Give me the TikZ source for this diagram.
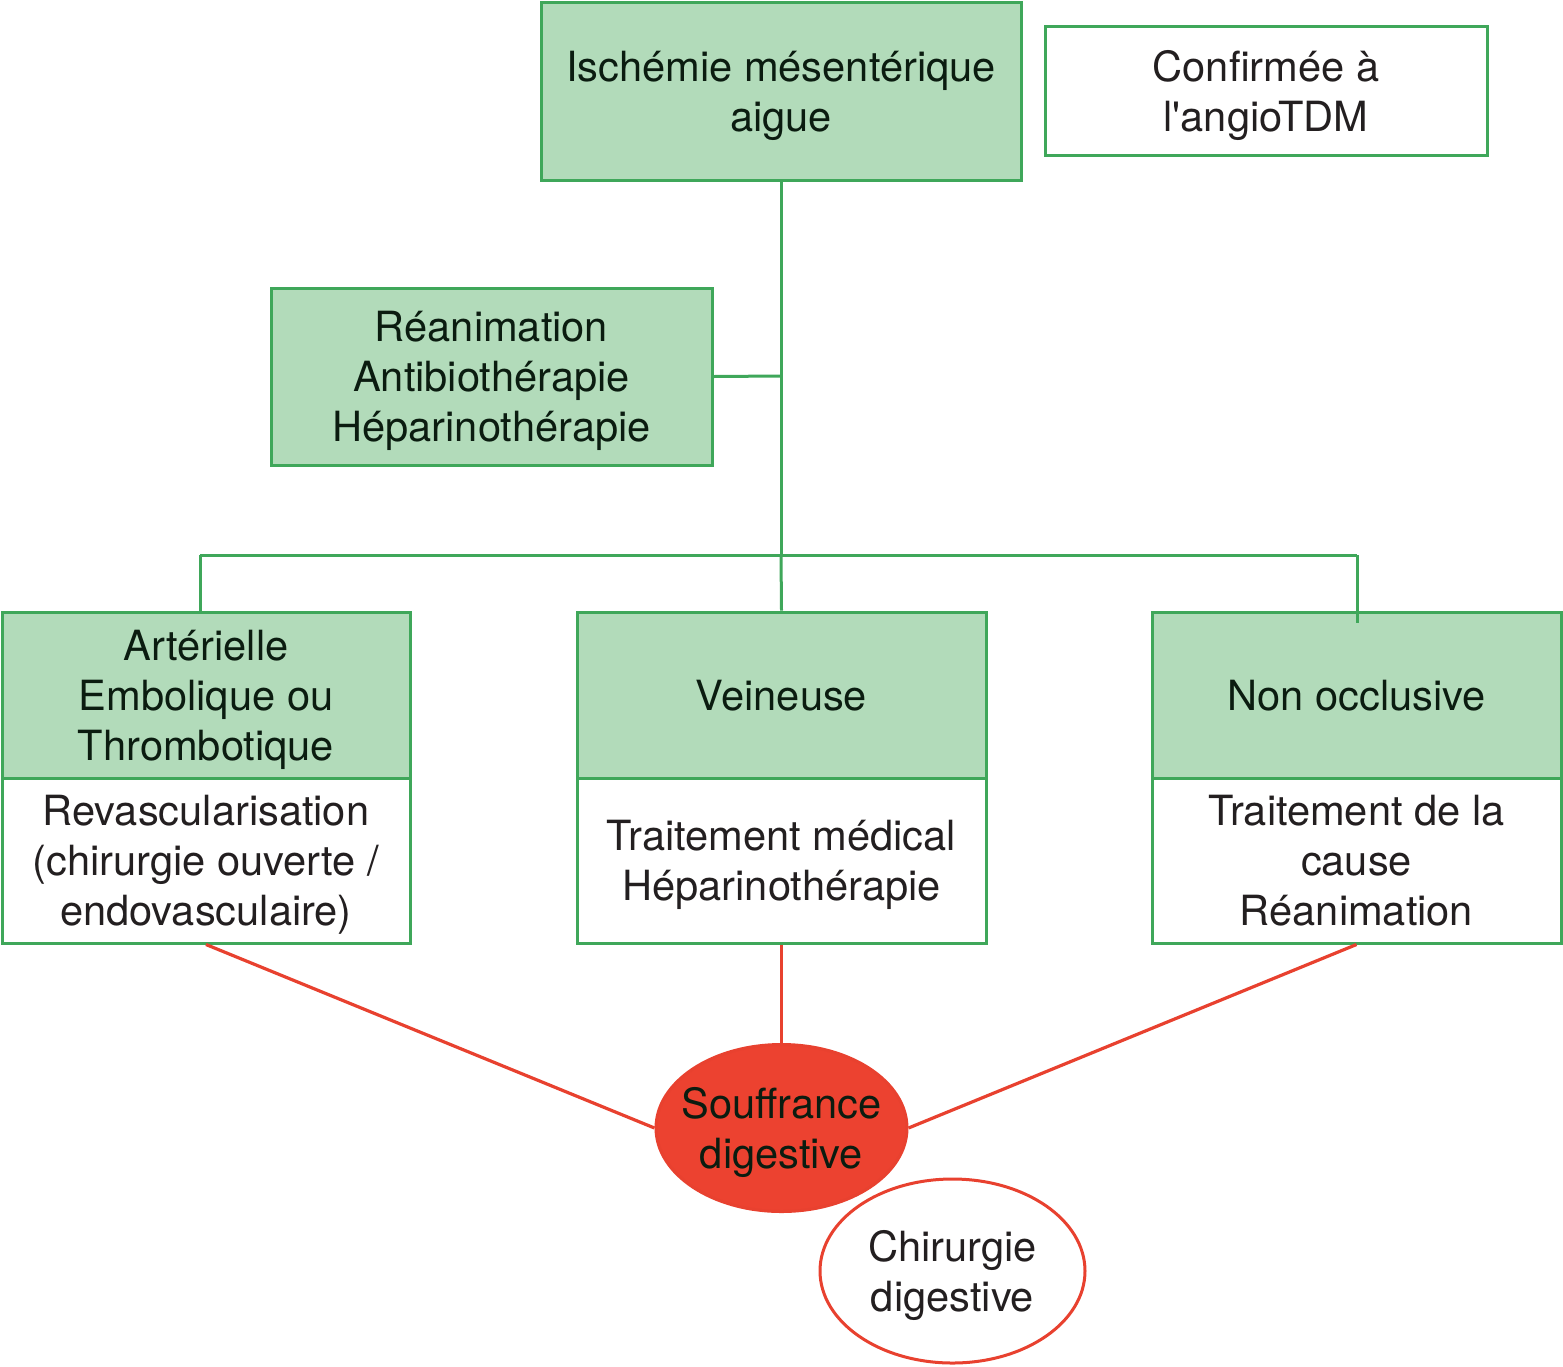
\documentclass[tikz,border=0pt]{standalone}
\usepackage{fontspec}
\setmainfont{TeX Gyre Heros}
\usetikzlibrary{shapes.geometric}
\definecolor{gfill}{HTML}{B2DBBA}
\definecolor{gline}{HTML}{3FA75A}
\definecolor{rfill}{HTML}{EC4230}
\definecolor{rline}{HTML}{E8412F}
\definecolor{gtext}{HTML}{0B1C10}
\definecolor{wtext}{HTML}{231F20}
\tikzset{
  base/.style={line width=1.5pt, align=center, inner sep=0pt, text depth=0pt, font=\fontsize{20.8}{25}\selectfont},
  gbox/.style={base, draw=gline, fill=gfill, text=gtext},
  wbox/.style={base, draw=gline, fill=white, text=wtext},
  rell/.style={base, ellipse, draw=rline, inner xsep=-12pt, inner ysep=-12pt},
  gconn/.style={draw=gline, line width=1.5pt},
  rconn/.style={draw=rline, line width=1.6pt},
}
\begin{document}
\begin{tikzpicture}[x=0.5pt,y=-0.5pt]
\useasboundingbox (0,0) rectangle (1563,1366);
\coordinate (hj) at (781,555);
\coordinate (hl) at (200,555);
\coordinate (hr) at (1357,555);
\coordinate (rj) at (781,376);
\coordinate (re) at (1357,623);
\node[gbox, minimum width=240pt, minimum height=89pt] (top) at (781,91) {Ischémie mésentérique\\aigue};
\node[wbox, minimum width=221pt, minimum height=64.5pt] (conf) at (1266,90.5) {Confirmée à\\l\textquotesingle angioTDM};
\node[gbox, minimum width=220.5pt, minimum height=88.5pt] (rea) at (491.5,376.5) {Réanimation\\Antibiothérapie\\Héparinothérapie};
\draw[gconn] (top.south) -- (rj) -- (hj);
\draw[gconn] (rea.east) -- (rj);
\draw[gconn] (hl) -- (hr);
\node[gbox, minimum width=204pt, minimum height=83pt] (lt) at (206,695) {Artérielle\\Embolique ou\\Thrombotique};
\node[wbox, minimum width=204pt, minimum height=82.5pt] (lb) at (206,860.5) {Revascularisation\\(chirurgie ouverte /\\endovasculaire)};
\node[gbox, minimum width=204.5pt, minimum height=83pt] (mt) at (781.5,695) {Veineuse};
\node[wbox, minimum width=204.5pt, minimum height=82.5pt] (mb) at (781.5,860.5) {Traitement médical\\Héparinothérapie};
\node[gbox, minimum width=204.5pt, minimum height=83pt] (rt) at (1356.5,695) {Non occlusive};
\node[wbox, minimum width=204.5pt, minimum height=82.5pt] (rb) at (1356.5,860.5) {Traitement de la\\cause\\Réanimation};
\draw[gconn] (hl) -- (hl |- lt.north);
\draw[gconn] (hj) -- (mt.north);
\draw[gconn] (hr) -- (re);
\node[rell, fill=rfill, text=gtext, minimum width=125.5pt, minimum height=83.5pt] (souf) at (781.5,1128) {Souffrance\\digestive};
\node[rell, fill=white, text=wtext, minimum width=132.5pt, minimum height=92pt] (chir) at (952.5,1271) {Chirurgie\\digestive};
\draw[rconn] (lb.south) -- (souf.west);
\draw[rconn] (mb.south) -- (souf.north);
\draw[rconn] (rb.south) -- (souf.east);
\end{tikzpicture}
\end{document}
